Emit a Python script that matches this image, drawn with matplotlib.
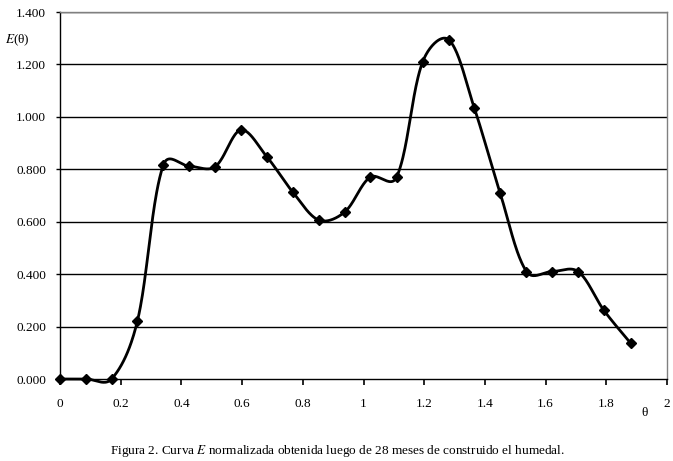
import numpy as np
import matplotlib.pyplot as plt

# valores (theta normalizado, E(theta))
theta = [0.000, 0.086, 0.170, 0.255, 0.340, 0.425, 0.511, 0.596, 0.682, 0.767,
         0.853, 0.938, 1.022, 1.109, 1.195, 1.281, 1.365, 1.450, 1.537, 1.621,
         1.707, 1.792, 1.880]
E = [0.000, 0.000, 0.000, 0.221, 0.815, 0.812, 0.810, 0.950, 0.847, 0.713,
     0.606, 0.637, 0.770, 0.770, 1.210, 1.294, 1.034, 0.710, 0.410, 0.410,
     0.410, 0.262, 0.137]

y_ticks = [0.0, 0.2, 0.4, 0.6, 0.8, 1.0, 1.2, 1.4]
x_ticks = [0, 0.2, 0.4, 0.6, 0.8, 1, 1.2, 1.4, 1.6, 1.8, 2]
caption_a = "Figura 2. Curva "
caption_b = "E"
caption_c = " normalizada obtenida luego de 28 meses de construido el humedal."


def suavizar(x, y, sx=303.5, sy=262.0, n=40):
    # curva suavizada parecida a la de excel: bezier con puntos de control
    # escalados por la longitud de los tramos (en pixeles)
    px = np.asarray(x) * sx
    py = np.asarray(y) * sy
    m = len(px)
    d = np.sqrt(np.hypot(np.diff(px), np.diff(py)))
    xs, ys = [], []
    for i in range(m - 1):
        p0 = max(i - 1, 0); p3 = min(i + 2, m - 1)
        d01 = d[i - 1] if i > 0 else d[i]
        d12 = d[i]
        d23 = d[i + 1] if i + 1 < m - 1 else d[i]
        f1 = d12 / (d01 + d12) / 3
        f2 = d12 / (d12 + d23) / 3
        c1x = px[i] + (px[i + 1] - px[p0]) * f1; c1y = py[i] + (py[i + 1] - py[p0]) * f1
        c2x = px[i + 1] - (px[p3] - px[i]) * f2; c2y = py[i + 1] - (py[p3] - py[i]) * f2
        t = np.linspace(0, 1, n)
        b0 = (1 - t)**3; b1 = 3 * (1 - t)**2 * t; b2 = 3 * (1 - t) * t**2; b3 = t**3
        xs.append(b0 * px[i] + b1 * c1x + b2 * c2x + b3 * px[i + 1])
        ys.append(b0 * py[i] + b1 * c1y + b2 * c2y + b3 * py[i + 1])
    return np.concatenate(xs) / sx, np.concatenate(ys) / sy


plt.rcParams['font.family'] = ['Liberation Serif', 'DejaVu Serif']

fig = plt.figure(figsize=(6.73, 4.61), dpi=100)
ax = fig.add_axes([60 / 673, 1 - 379 / 461, 607 / 673, 367 / 461])

for yv in y_ticks[1:]:
    ax.axhline(yv, color='black', lw=1.0, zorder=1)

cx, cy = suavizar(theta, E)
ax.plot(cx, cy, color='black', lw=2.0, clip_on=False, zorder=3)
ax.plot(theta, E, linestyle='none', marker='D', ms=4.8, color='black', clip_on=False, zorder=4)

ax.set_xlim(0, 2)
ax.set_ylim(0, 1.4)
ax.set_yticks(y_ticks)
ax.set_yticklabels(['%.3f' % v for v in y_ticks])
ax.set_xticks(x_ticks)
ax.set_xticklabels([str(v) for v in x_ticks])
ax.tick_params(axis='y', direction='out', length=3, width=1, labelsize=9.5, pad=7)
ax.tick_params(axis='x', direction='out', length=4, width=1.2, labelsize=9.5, pad=10)

ax.spines['left'].set_color('black')
ax.spines['bottom'].set_color('black')
ax.spines['top'].set_color('#808080')
ax.spines['right'].set_color('#808080')
for s in ax.spines.values():
    s.set_linewidth(1.0)

fig.text(17 / 673, 1 - 40 / 461, r'$E$(θ)', fontsize=9.5, ha='center', va='center',
         math_fontfamily='stix')
fig.text(645 / 673, 1 - 413 / 461, 'θ', fontsize=9.5, ha='center', va='center')

# pie de figura con la E en cursiva
fig.text(337 / 673, 1 - 451 / 461,
         caption_a + r'$\it{' + caption_b + '}$' + caption_c,
         fontsize=9.5, ha='center', va='center', math_fontfamily='stix')

fig.savefig('out.png', dpi=100)
